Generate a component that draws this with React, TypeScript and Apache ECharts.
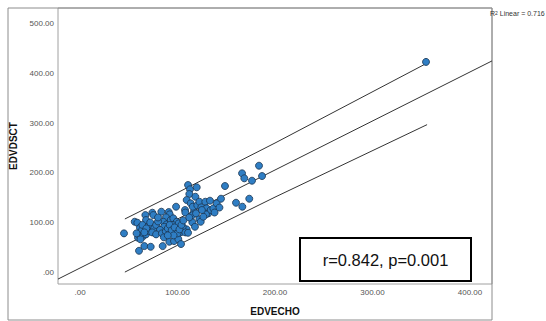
import React, { useEffect, useRef } from "react";
import * as echarts from "echarts";

// EDVECHO (x) vs EDVDSCT (y) scatter points
const points: [number, number][] = [
  [45.1, 78.0], [60.5, 42.9], [66.0, 52.4], [72.5, 51.0], [84.8, 52.4],
  [91.6, 61.1], [96.4, 62.5], [100.8, 66.5], [103.6, 56.5], [56.1, 101.4],
  [58.8, 99.4], [67.0, 114.9], [67.7, 104.8], [74.2, 119.6], [75.2, 114.9],
  [61.5, 89.3], [63.6, 84.7], [59.5, 69.2], [61.5, 72.6], [64.9, 72.6],
  [67.7, 76.0], [70.1, 82.7], [83.4, 121.6], [91.0, 121.0], [92.0, 116.3],
  [88.2, 110.3], [85.4, 101.4], [88.9, 96.2], [86.2, 91.3], [98.5, 131.7],
  [93.0, 104.8], [95.7, 108.3], [99.2, 101.4], [95.1, 94.8], [101.2, 98.2],
  [109.4, 86.1], [105.3, 91.3], [103.3, 80.0], [108.0, 80.0], [110.8, 79.2],
  [115.2, 100.2], [117.9, 91.3], [116.9, 121.6], [115.6, 114.9], [119.0, 118.3],
  [110.8, 175.4], [112.8, 166.7], [112.1, 157.3], [118.3, 151.8], [119.7, 170.8],
  [109.4, 145.2], [113.5, 138.5], [115.6, 131.7], [120.3, 134.5], [122.4, 141.7],
  [124.4, 130.4], [107.7, 125.0], [122.4, 106.3], [123.8, 101.4], [128.5, 141.7],
  [133.3, 143.8], [129.9, 128.4], [131.6, 118.3], [134.0, 125.0], [136.8, 128.4],
  [129.2, 116.3], [126.5, 111.5], [140.2, 138.5], [144.6, 147.8], [148.7, 173.4],
  [160.0, 139.7], [166.5, 131.7], [173.6, 147.8], [166.2, 199.0], [168.5, 188.9],
  [176.4, 184.1], [183.6, 214.3], [186.7, 193.5], [354.9, 423.4],
  [64, 95], [70, 92], [72, 100], [76, 88], [78, 95], [80, 102], [82, 85],
  [74, 80], [78, 76], [84, 78], [88, 82], [90, 88], [92, 95], [80, 110],
  [68, 88], [66, 80], [94, 84], [97, 90], [100, 78], [102, 86], [104, 95],
  [106, 104], [96, 74], [58, 78], [62, 66], [86, 70], [90, 74], [108, 120],
  [112, 110], [125, 125], [138, 120], [143, 130],
];

// Linear fit line (spans the whole plot) and 95% prediction-interval lines
const fitLine: [number, number][] = [[-22.6, -14.1], [422.6, 425.4]];
const upperLine: [number, number][] = [[46, 107], [100, 160], [200, 260], [356, 421]];
const lowerLine: [number, number][] = [[46, 0], [100, 54], [200, 151], [356, 297]];

const xRange = [-22.6, 422.6];
const yRange = [-24, 532];

const xAxisName = "EDVECHO";
const yAxisName = "EDVDSCT";
const statText = "r=0.842, p=0.001";

const fmt = (v: number) => {
  const r = Math.round(v);
  if (Math.abs(v - r) > 1e-6 || r % 100 !== 0) return "";
  return r === 0 ? ".00" : r.toFixed(2);
};

export default function App() {
  const ref = useRef<HTMLDivElement>(null);
  useEffect(() => {
    if (!ref.current) return;
    const chart = echarts.init(ref.current, undefined, { renderer: "svg" });
    const font = "'Liberation Sans', Arial, sans-serif";
    const lineStyle = { color: "#333", width: 1 };
    chart.setOption({
      animation: false,
      backgroundColor: "#fff",
      textStyle: { fontFamily: font },
      grid: {
        left: 58, top: 8, width: 434, height: 276,
        show: true, borderColor: "#a0a0a0", borderWidth: 1,
        backgroundColor: "transparent",
      },
      xAxis: {
        type: "value", min: xRange[0], max: xRange[1],
        axisLine: { show: false }, axisTick: { show: false }, splitLine: { show: false },
        axisLabel: { formatter: fmt, fontSize: 8, color: "#555", margin: 4, fontFamily: font },
        name: xAxisName, nameLocation: "middle", nameGap: 22,
        nameTextStyle: { fontSize: 10, fontWeight: "bold", color: "#111", fontFamily: font },
      },
      yAxis: {
        type: "value", min: yRange[0], max: yRange[1],
        axisLine: { show: false }, axisTick: { show: false }, splitLine: { show: false },
        axisLabel: { formatter: fmt, fontSize: 8, color: "#555", margin: 4, fontFamily: font },
        name: yAxisName, nameLocation: "middle", nameGap: 31, nameRotate: 90,
        nameTextStyle: { fontSize: 10, fontWeight: "bold", color: "#111", fontFamily: font },
      },
      series: [
        { type: "line", data: fitLine, symbol: "none", lineStyle, silent: true, z: 1 },
        { type: "line", data: upperLine, symbol: "none", lineStyle, silent: true, z: 1 },
        { type: "line", data: lowerLine, symbol: "none", lineStyle, silent: true, z: 1 },
        {
          type: "scatter", data: points, symbol: "circle", symbolSize: 7, z: 3,
          itemStyle: { color: "#2f7ec4", borderColor: "#1a3550", borderWidth: 0.8, opacity: 1 },
        },
      ],
      graphic: [
        {
          type: "rect", shape: { x: 8, y: 8, width: 484, height: 312 },
          style: { fill: "none", stroke: "#8c8c8c", lineWidth: 1 }, z: 0, silent: true,
        },
        {
          type: "text", x: 490, y: 10,
          style: {
            text: "{a|R}{s|2}{a| Linear = 0.716}",
            fontFamily: font,
            rich: {
              a: { fontSize: 7, fill: "#333", fontFamily: font, verticalAlign: "bottom" },
              s: { fontSize: 5, fill: "#333", fontFamily: font, verticalAlign: "top" },
            },
          },
          z: 10,
        },
        {
          type: "rect", shape: { x: 300, y: 238, width: 171, height: 43 },
          style: { fill: "#fff", stroke: "#000", lineWidth: 2 }, z: 10,
        },
        {
          type: "text", x: 385.5, y: 260,
          style: {
            text: statText, fontSize: 16.5, fill: "#111", fontFamily: font,
            align: "center", verticalAlign: "middle",
          },
          z: 11,
        },
      ],
    });
    return () => chart.dispose();
  }, []);
  return (
    <div
      ref={ref}
      style={{ position: "fixed", left: 0, top: 0, width: 546, height: 321 }}
    />
  );
}
